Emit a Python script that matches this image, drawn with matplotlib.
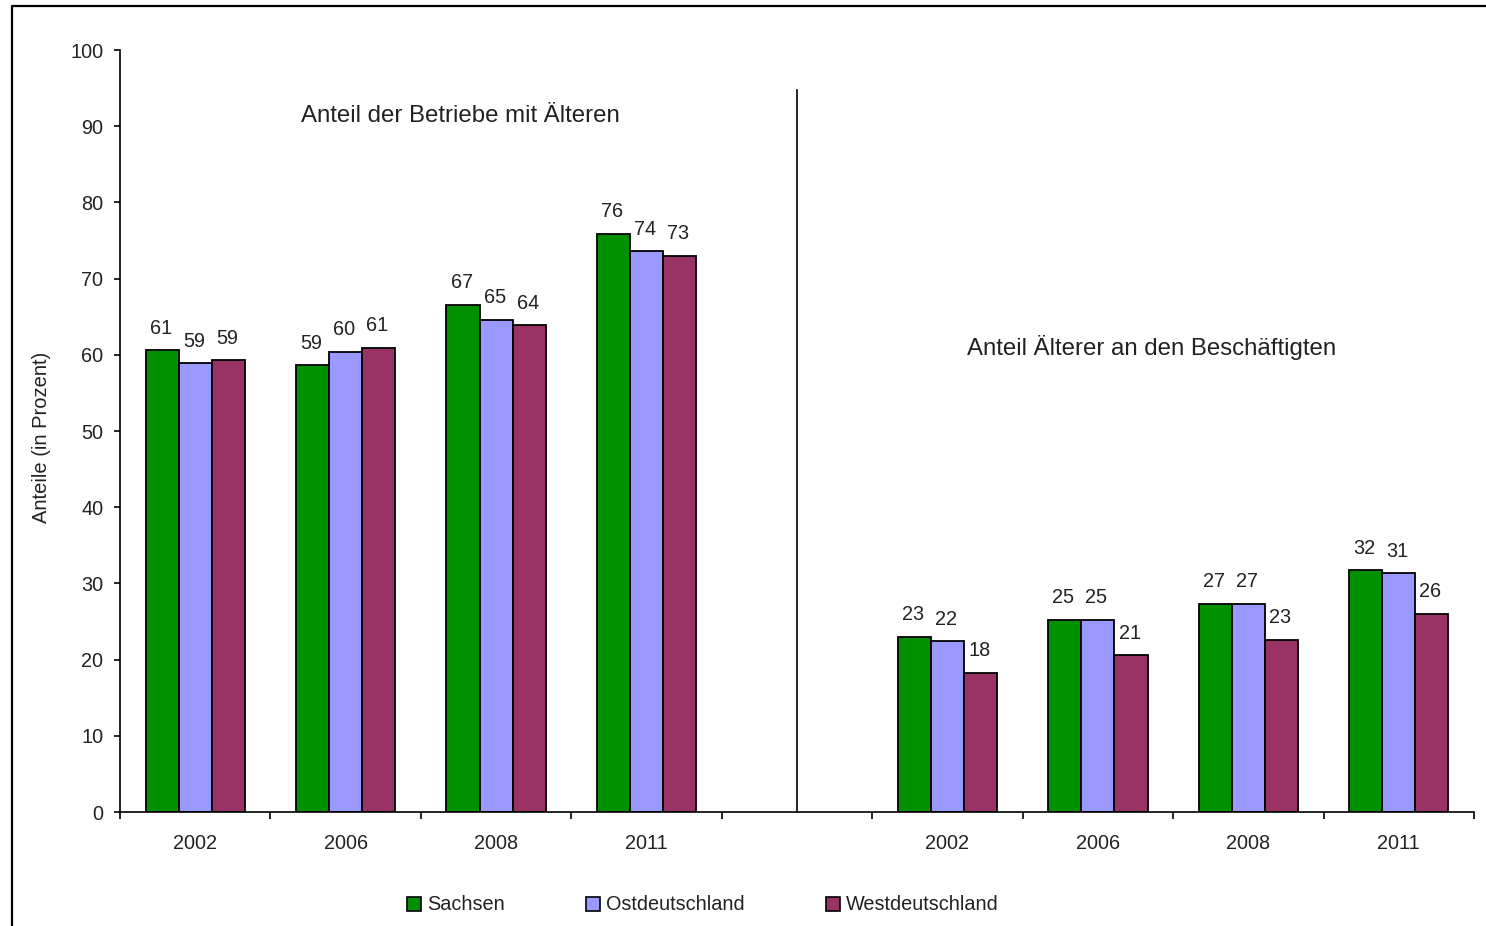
import numpy as np
import matplotlib
matplotlib.use("Agg")
import matplotlib.pyplot as plt
from matplotlib.patches import Patch
from matplotlib.lines import Line2D

plt.rcParams['font.family'] = ['Liberation Sans', 'DejaVu Sans']

# Kategorien: 4 Jahre links, eine Leerspalte, 4 Jahre rechts
kategorien = ["2002", "2006", "2008", "2011", "", "2002", "2006", "2008", "2011"]
serien = ["Sachsen", "Ostdeutschland", "Westdeutschland"]
farben = ["#009000", "#9999FF", "#993366"]

# Anteil der Betriebe mit Älteren | Anteil Älterer an den Beschäftigten
sachsen = [60.6, 58.6, 66.6, 75.9, np.nan, 23.0, 25.2, 27.3, 31.7]
ost = [58.9, 60.4, 64.6, 73.6, np.nan, 22.4, 25.2, 27.3, 31.3]
west = [59.3, 60.9, 63.9, 73.0, np.nan, 18.3, 20.6, 22.6, 26.0]
werte = [sachsen, ost, west]

fig = plt.figure(figsize=(14.86, 9.26), dpi=100)
ax = fig.add_axes([120/1486, 1-812/926, (1474-120)/1486, (812-50)/926])

x = np.arange(len(kategorien))
breite = 0.22
for i, (name, farbe, v) in enumerate(zip(serien, farben, werte)):
    pos = x + (i - 1) * breite
    v = np.array(v, dtype=float)
    ok = ~np.isnan(v)
    ax.bar(pos[ok], v[ok], breite, color=farbe, edgecolor="black", linewidth=1.3, label=name)
    for px, py in zip(pos[ok], v[ok]):
        ax.annotate(f"{py:.0f}", (px, py), xytext=(-1, 9), textcoords="offset points",
                    ha="center", va="bottom", fontsize=14.3, color="#222222")

ax.set_xlim(-0.5, len(kategorien) - 0.5)
ax.set_ylim(0, 100)
ax.set_yticks(np.arange(0, 101, 10))
ax.set_xticks(np.arange(-0.5, len(kategorien), 1.0))
ax.set_xticklabels([])
ax.set_xticks(x, minor=True)
ax.set_xticklabels(kategorien, minor=True)
ax.tick_params(axis="x", which="major", direction="out", length=5, width=1.2)
ax.tick_params(axis="x", which="minor", length=0, pad=16, labelsize=14.3, labelcolor="#222222")
ax.tick_params(axis="y", direction="out", length=4, width=1.2, pad=8, labelsize=14.3, labelcolor="#222222")
for s in ["top", "right"]:
    ax.spines[s].set_visible(False)
for s in ["left", "bottom"]:
    ax.spines[s].set_linewidth(1.2)

# Trennlinie zwischen beiden Teilen
ax.plot([4, 4], [0, 94.7], color="black", lw=1.2, clip_on=False)

ax.text(1.76, 91.3, "Anteil der Betriebe mit Älteren", ha="center", va="center", fontsize=17.3, color="#222222")
ax.text(6.36, 60.9, "Anteil Älterer an den Beschäftigten", ha="center", va="center", fontsize=17.3, color="#222222")

fig.text(42/1486, 1-437/926, "Anteile (in Prozent)", rotation=90, ha="center", va="center",
         fontsize=14.5, color="#222222")

# Rahmen des Diagrammbereichs
fig.add_artist(Line2D([12/1486, 12/1486, 1.0], [0.0, 1-6/926, 1-6/926], transform=fig.transFigure,
                      color="black", lw=1.6))

handles = [Patch(facecolor=f, edgecolor="black", linewidth=1.2) for f in farben]
fig.legend(handles, serien, loc="center left", bbox_to_anchor=(389/1486, 1-905/926), ncol=3,
           frameon=False, fontsize=14.3, handlelength=0.7, handleheight=0.7, handletextpad=0.3,
           columnspacing=4.1, labelcolor="#222222")

fig.savefig("out.png", dpi=100)
